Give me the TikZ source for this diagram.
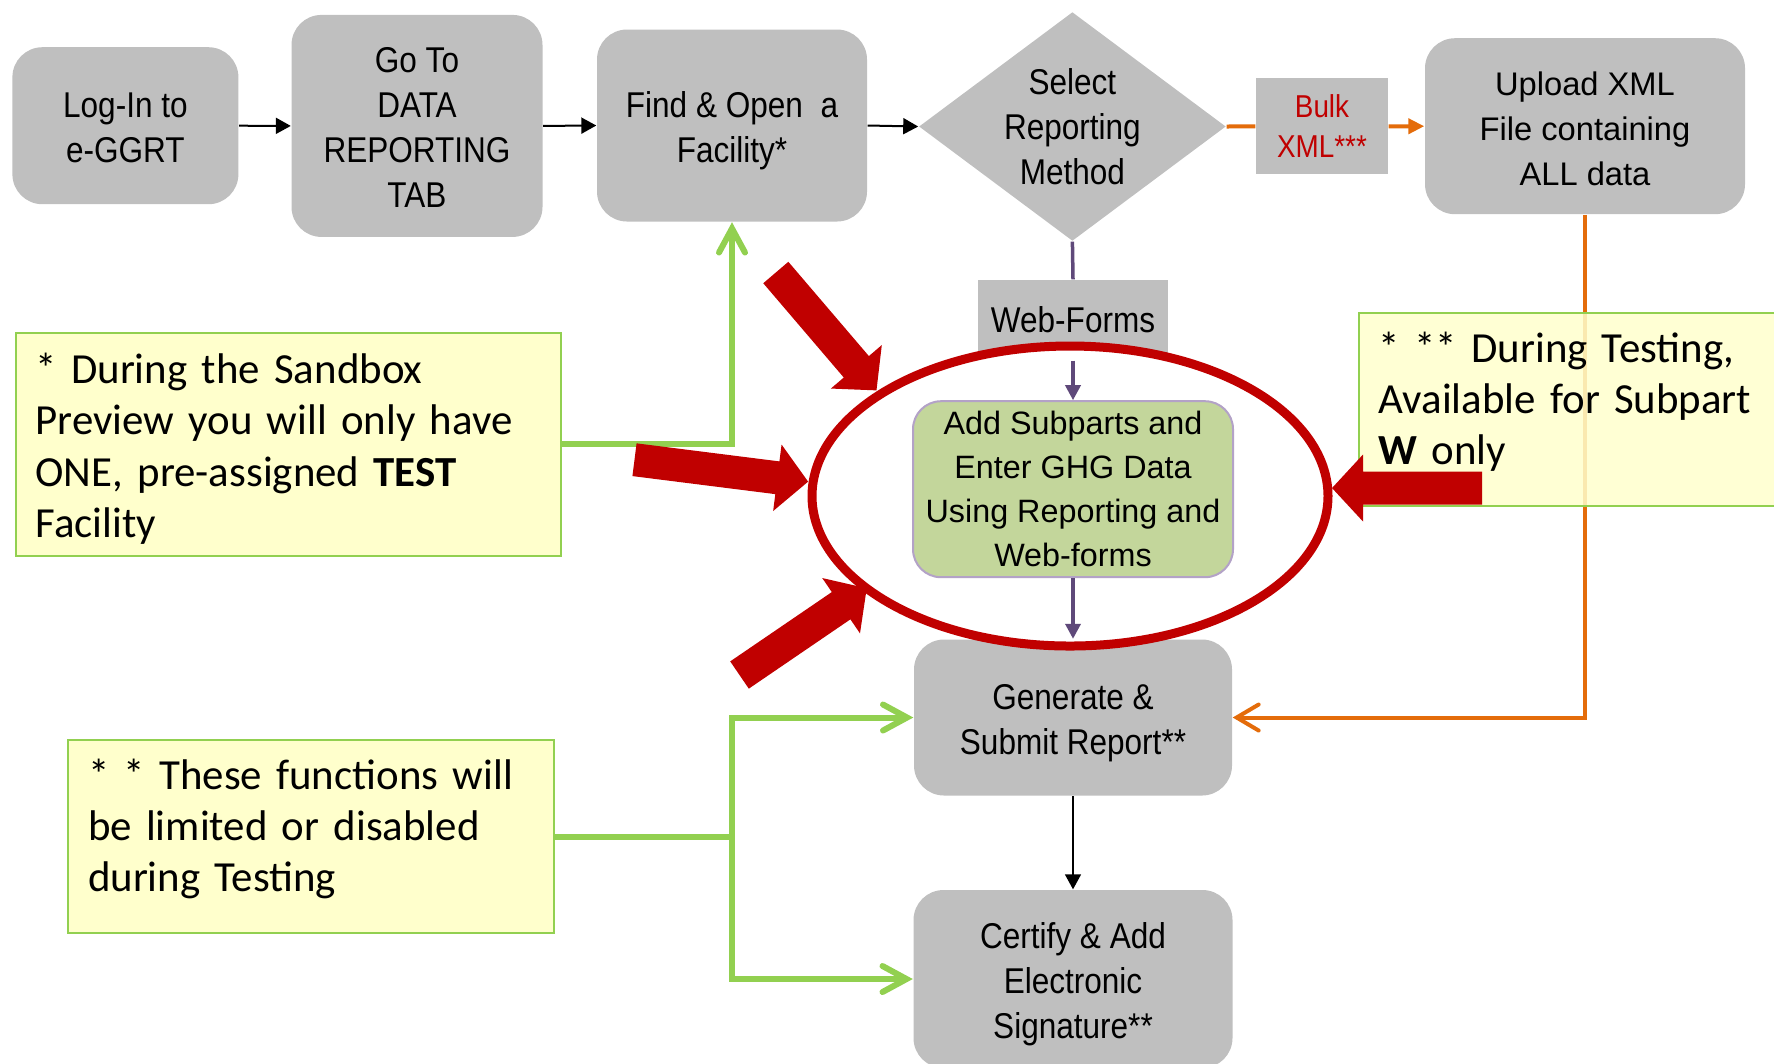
\documentclass[tikz,border=0pt]{standalone}
\usepackage{fontspec}
\usetikzlibrary{shapes.geometric,arrows.meta}

\setmainfont{Liberation Sans}
\newfontfamily\boxfont{Liberation Sans}[FakeStretch=0.88]
\newfontfamily\notefont{Carlito}[WordSpace=0.9]

\definecolor{boxgray}{HTML}{BFBFBF}
\definecolor{notefill}{HTML}{FFFFCC}
\definecolor{notegreen}{HTML}{92D050}
\definecolor{blockred}{HTML}{C00000}
\definecolor{xmlorange}{HTML}{E46C0A}
\definecolor{formpurple}{HTML}{5F497A}
\definecolor{subfill}{HTML}{C3D69B}
\definecolor{subedge}{HTML}{B3A2C7}

% struts so the box text sits like the slide text
\newcommand{\topstrut}{\rule{0pt}{4mm}}
\newcommand{\botstrut}{\rule[-1.1mm]{0pt}{1.1mm}}

\tikzset{
  stepbox/.style={fill=boxgray, rounded corners=3mm, align=center, inner sep=0pt,
    font={\boxfont\fontsize{10.2}{12.8}\selectfont}},
  tagbox/.style={fill=boxgray, align=center, inner sep=0pt,
    font={\boxfont\fontsize{10.2}{12.8}\selectfont}},
  decision/.style={shape=diamond, fill=boxgray, aspect=1.34, inner sep=0pt, align=center,
    font={\boxfont\fontsize{10.2}{12.8}\selectfont}},
  subbox/.style={draw=subedge, line width=0.2mm, fill=subfill, rounded corners=2.8mm,
    align=center, inner sep=0pt, font={\fontsize{9.2}{12.5}\selectfont}},
  notebox/.style={draw=notegreen, line width=0.2mm, fill=notefill, align=left,
    inner xsep=2mm, inner ysep=0pt, font={\notefont\fontsize{12.2}{14.6}\selectfont}},
  flow/.style={line width=0.2mm, -{Triangle[length=1.5mm,width=1.6mm]}},
  xmlline/.style={xmlorange, line width=0.4mm},
  formline/.style={formpurple, line width=0.35mm},
  hintline/.style={notegreen, line width=0.6mm},
  hint/.style={hintline, -{Straight Barb[length=2.4mm,width=2.6mm,line cap=round]}}
}

% big red pointer: tail point, turn, length
\newcommand{\blockarrow}[3]{%
  \fill[blockred, shift={#1}, rotate=#2]
    (0,16.5) -- (#3-31,16.5) -- (#3-31,33.5) -- (#3,0)
    -- (#3-31,-33.5) -- (#3-31,-16.5) -- (0,-16.5) -- cycle;}

\begin{document}
\begin{tikzpicture}[x=0.1mm, y=-0.1mm]
    \path[use as bounding box] (0,0) rectangle (1774,1063);
    \clip (0,0) rectangle (1774,1063);

    % --- Top row ---
    \node[stepbox, minimum width=22.6mm, minimum height=15.7mm] (login) at (125.4,125.7)
         {\topstrut Log-In to\\e-GGRT\botstrut};
    \node[stepbox, minimum width=25.1mm, minimum height=22.2mm] (goto) at (417,125.9)
         {\topstrut Go To\\DATA\\REPORTING\\TAB\botstrut};
    \node[stepbox, minimum width=27mm, minimum height=19.2mm] (find) at (732,125.5)
         {\topstrut Find \& Open\ \ a\\Facility*\botstrut};
    \node[decision, minimum width=30.7mm, minimum height=22.9mm] (select) at (1072.4,126.5)
         {Select\\Reporting\\Method};
    \node[tagbox, minimum width=13.2mm, minimum height=9.6mm, text=blockred,
          font={\boxfont\fontsize{9}{11.3}\selectfont}] (bulk) at (1322,126.3)
         {Bulk\\XML***};
    \node[stepbox, minimum width=32mm, minimum height=17.6mm,
          font={\fontsize{9.3}{12.8}\selectfont}] (upload) at (1585,126.2)
         {\topstrut Upload XML\\File containing\\ALL data\botstrut};

    % --- Middle column ---
    \node[tagbox, minimum width=19mm, minimum height=8mm] (webforms) at (1073,320) {Web-Forms};
    \node[stepbox, minimum width=31.8mm, minimum height=15.6mm] (generate) at (1073,717.5)
         {\topstrut Generate \&\\Submit Report**\botstrut};
    \node[stepbox, minimum width=31.9mm, minimum height=17.8mm] (certify) at (1073,979)
         {\topstrut Certify \& Add\\Electronic\\Signature**\botstrut};

    % orange route (under note 3)
    \draw[xmlline] (select.east) -- (bulk.west);
    \draw[xmlline, -{Triangle[length=1.6mm,width=1.5mm]}] (bulk.east) -- (upload.west);
    \draw[xmlline, -{Straight Barb[length=2.2mm,width=2.6mm,line cap=round]}]
         (upload.south) |- (generate.east);

    % red ring round the web-form step
    \draw[blockred, line width=0.9mm, fill=white] (1070,496) ellipse [x radius=25.8mm, y radius=15mm];
    \node[subbox, minimum width=32mm, minimum height=17.6mm] (addsub) at (1073,489.2)
         {Add Subparts and\\Enter GHG Data\\Using Reporting and\\Web-forms};

    % main flow
    \draw[flow] (login.east) -- (goto.west);
    \draw[flow] (goto.east) -- (find.west);
    \draw[flow] (find.east) -- (select.west);
    \draw[formline] (select.south) -- (webforms.north);
    \draw[formline, -{Triangle[length=1.5mm,width=1.5mm]}] (webforms.south) -- (addsub.north);
    \draw[formline, -{Triangle[length=1.5mm,width=1.5mm]}] (addsub.south) -- (generate.north);
    \draw[line width=0.15mm, -{Triangle[length=1.5mm,width=1.6mm]}] (generate.south) -- (certify.north);

    % --- Notes ---
    \node[notebox, text width=50.5mm, minimum height=22.3mm] (sandbox) at (288,444.3)
         {\rule{0pt}{3.9mm}* During the Sandbox\\Preview you will only have\\ONE, pre-assigned \textbf{TEST}\\Facility};
    \node[notebox, text width=44.6mm, minimum height=19.3mm] (limits) at (311,836.7)
         {* * These functions will\\be limited or disabled\\during Testing\rule[-2.3mm]{0pt}{2.3mm}};
    \node[notebox, fill opacity=0.85, text opacity=1, text width=42mm, minimum height=19.3mm,
          anchor=north west] (subpartw) at (1357.7,312.3)
         {* ** During Testing,\\Available for Subpart\\\textbf{W} only\rule[-2.3mm]{0pt}{2.3mm}};

    % green hint lines
    \draw[hint] (sandbox.east) -| (find.south);
    \coordinate (split) at (limits.east -| find.south);
    \draw[hintline] (limits.east) -- (split);
    \draw[hint] (split) |- (generate.west);
    \draw[hint] (split) |- (certify.west);

    % red pointers at the ring
    \blockarrow{(775.8,272.5)}{-49.5}{155}
    \blockarrow{(634.5,459.7)}{-7.2}{175}
    \blockarrow{(739.5,675)}{34.3}{154}
    \blockarrow{(1482,488)}{180}{150}

\end{tikzpicture}
\end{document}
